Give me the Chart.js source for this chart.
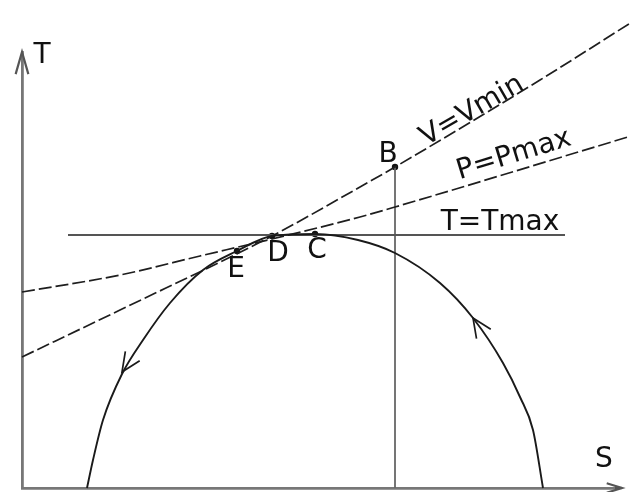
<!DOCTYPE html>
<html>
<head>
<meta charset="utf-8">
<script src="https://cdn.jsdelivr.net/npm/chart.js@4.4.1/dist/chart.umd.min.js"></script>
<style>
  html, body { margin: 0; padding: 0; background: #fff; }
  #wrap { width: 633px; height: 492px; }
</style>
</head>
<body>
<div id="wrap"><canvas id="ts"></canvas></div>
<script>
// ---------- Data (S, T in arbitrary units) ----------
const domeS = [6.5, 7.1, 8.1, 10.0, 12.1, 14.8, 18.1, 21.5, 25.0, 29.3, 33.6, 37.3, 41.8, 45.1, 48.1, 49.8, 51.1, 52.1];
const domeT = [0.0, 2.8, 6.8, 11.4, 14.8, 18.5, 21.8, 23.7, 25.2, 25.4, 24.8, 23.5, 20.5, 17.0, 12.5, 9.1, 5.8, 0.0];

const vminS = [0, 9.8, 25.0, 33.8, 37.3, 51.8, 61.0];
const vminT = [13.1, 17.8, 25.2, 30.1, 32.1, 40.8, 46.6];

const pmaxS = [0, 9.8, 17.8, 25.0, 33.8, 37.3, 60.6];
const pmaxT = [19.6, 21.3, 23.2, 24.9, 27.1, 28.1, 35.1];

const tmaxS = [4.6, 54.3];
const tmaxT = 25.3;

const pointNames = ['B', 'C', 'D', 'E'];
const pointS = [37.3, 29.3, 25.0, 21.5];
const pointT = [32.1, 25.4, 25.2, 23.7];

// text labels: [text, S, T, rotation deg]
const labels = [
  ['T', 2.0, 43.2, 0],
  ['S', 58.2, 2.8, 0],
  ['B', 36.6, 33.3, 0],
  ['C', 29.5, 23.7, 0],
  ['D', 25.6, 23.4, 0],
  ['E', 21.4, 21.8, 0],
  ['T=Tmax', 47.8, 26.5, 0],
  ['V=Vmin', 45.0, 37.7, -30],
  ['P=Pmax', 49.2, 33.3, -17]
];

// direction arrows on the dome: [tipS, tipT, fromS, fromT]
const flowArrows = [
  [10.0, 11.6, 12.1, 14.8],
  [45.1, 17.0, 48.1, 12.5]
];

const pts = (xs, ys) => xs.map((x, i) => ({ x, y: Array.isArray(ys) ? ys[i] : ys }));
const bIdx = pointNames.indexOf('B');

// ---------- Plugin: arrows + text ----------
function openArrow (ctx, tx, ty, fx, fy, len, half) {
  const a = Math.atan2(fy - ty, fx - tx);
  ctx.beginPath();
  ctx.moveTo(tx + len * Math.cos(a - half), ty + len * Math.sin(a - half));
  ctx.lineTo(tx, ty);
  ctx.lineTo(tx + len * Math.cos(a + half), ty + len * Math.sin(a + half));
  ctx.stroke();
}

const decor = {
  id: 'decor',
  afterDraw (chart) {
    const { ctx, chartArea: ca, scales: { x, y } } = chart;
    ctx.save();
    // axis arrowheads
    ctx.strokeStyle = '#555';
    ctx.lineWidth = 2.2;
    openArrow(ctx, ca.left, ca.top, ca.left, ca.top + 20, 23, 0.28);
    ctx.beginPath(); ctx.moveTo(ca.right, ca.bottom); ctx.lineTo(ca.right + 7, ca.bottom); ctx.stroke();
    openArrow(ctx, ca.right + 7, ca.bottom, ca.right - 10, ca.bottom, 16, 0.3);

    // flow arrows
    ctx.strokeStyle = '#1a1a1a';
    ctx.lineWidth = 1.7;
    flowArrows.forEach(([ts, tt, fs, ft]) => {
      openArrow(ctx, x.getPixelForValue(ts), y.getPixelForValue(tt),
                x.getPixelForValue(fs), y.getPixelForValue(ft), 21, 0.42);
    });

    // labels
    ctx.fillStyle = '#111';
    ctx.font = '28px "DejaVu Sans"';
    ctx.textAlign = 'center';
    ctx.textBaseline = 'middle';
    labels.forEach(([txt, s, t, rot]) => {
      ctx.save();
      ctx.translate(x.getPixelForValue(s), y.getPixelForValue(t));
      ctx.rotate(rot * Math.PI / 180);
      ctx.fillText(txt, 0, 0);
      ctx.restore();
    });
    ctx.restore();
  }
};

// ---------- Chart ----------
new Chart(document.getElementById('ts'), {
  type: 'line',
  data: {
    datasets: [
      { data: pts(domeS, domeT), borderColor: '#1a1a1a', borderWidth: 1.9, cubicInterpolationMode: 'monotone', pointRadius: 0, clip: false },
      { data: pts(vminS, vminT), borderColor: '#1e1e1e', borderWidth: 1.7, borderDash: [13, 4], cubicInterpolationMode: 'monotone', pointRadius: 0, clip: false },
      { data: pts(pmaxS, pmaxT), borderColor: '#1e1e1e', borderWidth: 1.7, borderDash: [13, 4], cubicInterpolationMode: 'monotone', pointRadius: 0, clip: false },
      { data: pts(tmaxS, tmaxT), borderColor: '#555', borderWidth: 1.8, pointRadius: 0, clip: false },
      { data: [{ x: pointS[bIdx], y: 0 }, { x: pointS[bIdx], y: pointT[bIdx] }], borderColor: '#666', borderWidth: 1.8, pointRadius: 0, clip: false },
      { data: pts(pointS, pointT), showLine: false, pointRadius: 3.2, pointBackgroundColor: '#111', pointBorderWidth: 0, clip: false }
    ]
  },
  options: {
    responsive: true,
    maintainAspectRatio: false,
    animation: false,
    events: [],
    layout: { padding: { left: 22, right: 18, top: 52, bottom: 4 } },
    plugins: { legend: { display: false }, tooltip: { enabled: false } },
    scales: {
      x: { type: 'linear', min: 0, max: 59.3,
           grid: { display: false, drawTicks: false }, ticks: { display: false },
           border: { display: true, color: '#777', width: 2.8 } },
      y: { type: 'linear', min: 0, max: 43.6,
           grid: { display: false, drawTicks: false }, ticks: { display: false },
           border: { display: true, color: '#777', width: 2.8 } }
    }
  },
  plugins: [decor]
});
</script>
</body>
</html>
